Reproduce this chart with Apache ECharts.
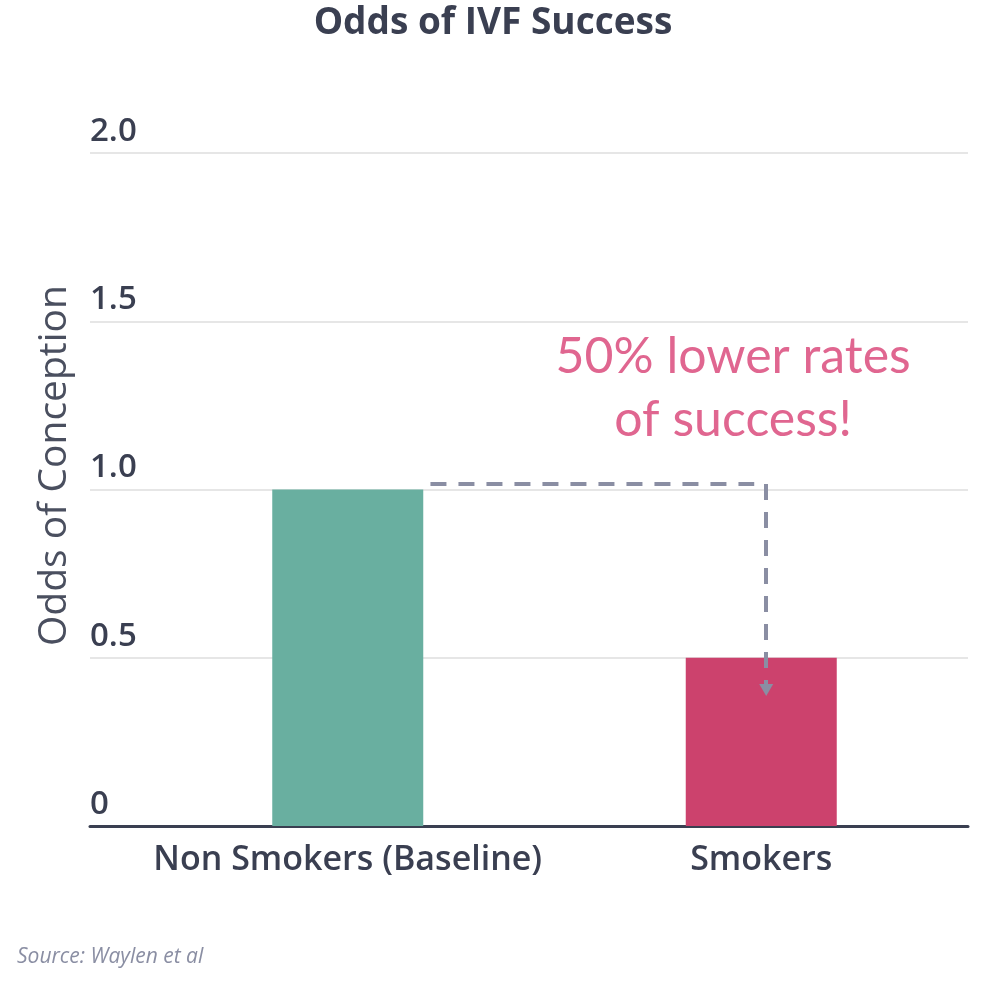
<!DOCTYPE html>
<html>
<head>
<meta charset="utf-8">
<script src="https://cdn.jsdelivr.net/npm/echarts@6/dist/echarts.min.js"></script>
<style>html,body{margin:0;padding:0;background:#fff;}#c{width:986px;height:990px;}</style>
</head>
<body>
<div id="c"></div>
<script>
var categories = ['Non Smokers (Baseline)', 'Smokers'];
var oddsValues = [1.0, 0.5];
var barColors = ['#69afa0', '#cc426d'];
var yTicks = [0, 0.5, 1.0, 1.5, 2.0];
// annotation path in data units (x: category index, y: odds)
var arrowHorizontal = [[0.2, 1.016], [0.983, 1.016]];
var arrowVertical = [[1.012, 1.016], [1.012, 0.404]];
var annotationText = '50% lower rates\nof success!';
var annotationPos = [0.932, 1.30];

var FONT = 'Open Sans';
var DARK = '#3a3f51';
var chart = echarts.init(document.getElementById('c'));
chart.setOption({
  animation: false,
  title: [
    {text: 'Odds of IVF Success', left: 'center', top: 0,
     textStyle: {fontFamily: FONT, fontWeight: 'bold', fontSize: 37, color: DARK}},
    {text: 'Source: Waylen et al', left: 12, top: 942,
     textStyle: {fontFamily: FONT, fontStyle: 'italic', fontWeight: 'normal', fontSize: 21, color: '#8a8ea3'}}
  ],
  grid: [
    {left: 90, right: 18, top: 153, bottom: 164},
    {left: 141, right: 18, top: 153, bottom: 164}
  ],
  xAxis: [
    {type: 'value', gridIndex: 0, min: 0, max: 1, axisLabel: {show: false}, axisTick: {show: false},
     splitLine: {show: false}, axisLine: {show: true, lineStyle: {color: DARK, width: 3}}},
    {type: 'category', gridIndex: 1, data: categories, axisLine: {show: false}, axisTick: {show: false},
     axisLabel: {interval: 0, fontFamily: FONT, fontWeight: 600, fontSize: 34, color: DARK, margin: 17}},
    {type: 'value', gridIndex: 1, min: -0.5, max: 1.5, show: false}
  ],
  yAxis: [
    {type: 'value', gridIndex: 0, min: 0, max: 2, interval: 0.5,
     name: 'Odds of Conception', nameLocation: 'middle', nameGap: 16,
     nameTextStyle: {fontFamily: FONT, fontSize: 39, color: '#4a4f5f', padding: [0, 0, 0, 48]},
     axisLine: {show: false}, axisTick: {show: false},
     splitLine: {show: true, lineStyle: {color: '#e6e6e6', width: 2}},
     axisLabel: {inside: true, margin: 0, verticalAlign: 'bottom', align: 'left', padding: [0, 0, 5, 0],
       fontFamily: FONT, fontWeight: 600, fontSize: 33, color: DARK,
       formatter: function (v) { return v === 0 ? '0' : v.toFixed(1); }}},
    {type: 'value', gridIndex: 1, min: 0, max: 2, show: false}
  ],
  series: [
    {type: 'bar', xAxisIndex: 1, yAxisIndex: 1, barWidth: 151,
     data: oddsValues.map(function (v, i) { return {value: v, itemStyle: {color: barColors[i]}}; })},
    {type: 'line', xAxisIndex: 2, yAxisIndex: 1, data: [], silent: true,
     markLine: {silent: true, animation: false,
       lineStyle: {color: '#8a8ea3', type: [16, 12], width: 4},
       label: {show: false},
       data: [
         [{coord: arrowHorizontal[0], symbol: 'none'}, {coord: arrowHorizontal[1], symbol: 'none'}],
         [{coord: arrowVertical[0], symbol: 'none'}, {coord: arrowVertical[1], symbol: 'triangle', symbolSize: [14, 12], symbolRotate: 180}]
       ]},
     markPoint: {silent: true, symbol: 'circle', symbolSize: 0,
       label: {show: true, position: 'inside', formatter: annotationText, fontFamily: 'Lato', fontSize: 50,
         lineHeight: 63, color: '#e06690', align: 'center'},
       data: [{coord: annotationPos}]}}
  ]
});
</script>
</body>
</html>
